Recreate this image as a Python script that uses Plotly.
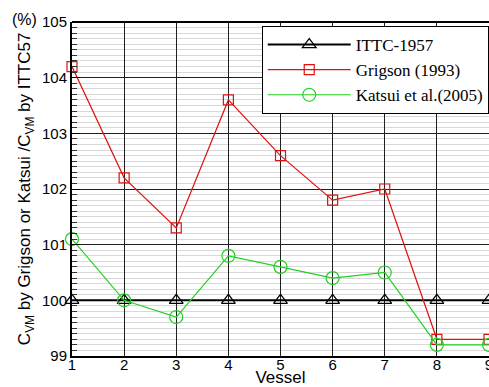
import plotly.graph_objects as go

vessels = [1, 2, 3, 4, 5, 6, 7, 8, 9]
ittc = [100, 100, 100, 100, 100, 100, 100, 100, 100]
grigson = [104.2, 102.2, 101.3, 103.6, 102.6, 101.8, 102.0, 99.3, 99.3]
katsui = [101.1, 100.0, 99.7, 100.8, 100.6, 100.4, 100.5, 99.2, 99.2]

fig = go.Figure()
fig.add_trace(go.Scatter(x=vessels, y=ittc, name="ITTC-1957", mode="lines+markers",
                         line=dict(color="black", width=2),
                         marker=dict(symbol="triangle-up-open", size=12, color="black", line=dict(width=1.2)),
                         cliponaxis=False))
fig.add_trace(go.Scatter(x=vessels, y=grigson, name="Grigson (1993)", mode="lines+markers",
                         line=dict(color="#e01010", width=1.2),
                         marker=dict(symbol="square-open", size=10, color="#e01010", line=dict(width=1.2)),
                         cliponaxis=False))
fig.add_trace(go.Scatter(x=vessels, y=katsui, name="Katsui et al.(2005)", mode="lines+markers",
                         line=dict(color="#22d022", width=1.2),
                         marker=dict(symbol="circle-open", size=13, color="#22d022", line=dict(width=1.2)),
                         cliponaxis=False))

fig.update_layout(
    width=489, height=387,
    margin=dict(l=72, r=0, t=22, b=31, autoexpand=False),
    plot_bgcolor="white", paper_bgcolor="white",
    font=dict(family="Liberation Sans, Arial", size=15, color="black"),
    showlegend=True,
    legend=dict(x=0.455, y=0.988, xanchor="left", yanchor="top",
                bgcolor="white", bordercolor="black", borderwidth=1,
                font=dict(family="Liberation Serif, Times New Roman", size=17, color="black"),
                itemwidth=83, tracegroupgap=0),
    xaxis=dict(range=[1, 9], tickvals=vessels, showgrid=True, gridcolor="#202020", gridwidth=1,
               showline=True, linecolor="black", linewidth=2, mirror=False, automargin=False,
               ticks="", ticklen=0, zeroline=False, ticklabeloverflow="allow",
               ticklabelstandoff=-6,
               title=dict(text="Vessel", standoff=0, font=dict(size=17))),
    yaxis=dict(range=[99, 105], dtick=1, showgrid=True, gridcolor="#202020", gridwidth=1,
               showline=True, linecolor="black", linewidth=2, automargin=False,
               ticks="inside", ticklen=8, tickcolor="black", zeroline=False,
               minor=dict(dtick=0.1, showgrid=True, gridcolor="#d8d8d8", gridwidth=1,
                          ticks="inside", ticklen=5, tickcolor="#303030")),
    annotations=[
        dict(text="(%)", xref="paper", yref="paper", x=-0.113, y=1.008,
             xanchor="center", yanchor="middle", showarrow=False, font=dict(size=16)),
        dict(text="C<sub>VM</sub> by Grigson or Katsui /C<sub>VM</sub> by ITTC57",
             xref="paper", yref="paper", x=-0.110, y=0.5, textangle=-90,
             xanchor="center", yanchor="middle", showarrow=False, font=dict(size=17)),
    ],
    shapes=[dict(type="line", xref="paper", yref="paper", x0=0, x1=1, y0=1, y1=1,
                 line=dict(color="black", width=2))],
)

fig.write_html("out.html")
